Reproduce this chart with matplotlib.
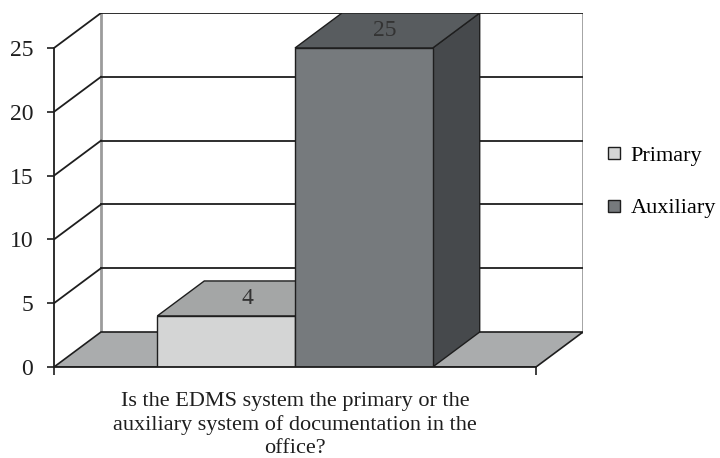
import matplotlib.pyplot as plt
from matplotlib.patches import Polygon
from matplotlib.lines import Line2D

# data
series = ["Primary", "Auxiliary"]
values = [4, 25]
yticks = [0, 5, 10, 15, 20, 25]
xlabel = "Is the EDMS system the primary or the\nauxiliary system of documentation in the\noffice?"

front_cols = ["#d4d5d5", "#767a7d"]
top_cols = ["#a4a6a6", "#585c5f"]
side_cols = ["#a4a6a6", "#46494c"]

plt.rcParams['font.family'] = ['Liberation Serif', 'DejaVu Serif']

fig = plt.figure(figsize=(7.2, 4.58), dpi=100)
ax = fig.add_axes([54/720, 91/458, 529/720, 354/458])

# depth of the fake 3d box, in data units
dx = 47/482
dy = 35/12.76
ymax = 25
ax.set_xlim(0, 1 + dx)
ax.set_ylim(0, ymax + dy)

lc = "#1e1e1e"
# floor
ax.add_patch(Polygon([(0, 0), (1, 0), (1 + dx, dy), (dx, dy)], closed=True,
                     facecolor="#aaacad", edgecolor=lc, lw=1.2, zorder=1))
# walls: gridlines on back wall and left side wall
for v in yticks[1:]:
    ax.plot([dx, 1 + dx], [v + dy, v + dy], color=lc, lw=1.3, zorder=1)
    ax.plot([0, dx], [v, v + dy], color=lc, lw=1.3, zorder=1)
ax.plot([dx, dx], [dy, ymax + dy], color="#9c9c9c", lw=2, zorder=0.9)
ax.plot([1 + dx, 1 + dx], [dy, ymax + dy], color="#9c9c9c", lw=2, zorder=0.9)

# bars
n = len(values)
gap = 1.5
w = 1 / (n + gap)
start = gap * w / 2
for i, (v, name) in enumerate(zip(values, series)):
    x0 = start + i * w
    x1 = x0 + w
    ax.add_patch(Polygon([(x1, 0), (x1 + dx, dy), (x1 + dx, v + dy), (x1, v)],
                         facecolor=side_cols[i], edgecolor=lc, lw=1, zorder=2))
    ax.add_patch(Polygon([(x0, v), (x1, v), (x1 + dx, v + dy), (x0 + dx, v + dy)],
                         facecolor=top_cols[i], edgecolor=lc, lw=1, zorder=2))
    ax.add_patch(Polygon([(x0, 0), (x1, 0), (x1, v), (x0, v)],
                         facecolor=front_cols[i], edgecolor=lc, lw=1, zorder=2))
    ax.text((x0 + x1) / 2 + dx / 2 - 0.005, v + dy / 2, str(v), ha="center", va="center",
            fontsize=17, color="#333333", zorder=3)

# axes
for s in ["top", "right"]:
    ax.spines[s].set_visible(False)
ax.spines["left"].set_bounds(0, ymax)
ax.spines["bottom"].set_bounds(0, 1)
for s in ["left", "bottom"]:
    ax.spines[s].set_color(lc)
    ax.spines[s].set_linewidth(1.3)
    ax.spines[s].set_zorder(4)
ax.set_yticks(yticks)
ax.set_xticks([0, 1])
ax.set_xticklabels(["", ""])
ax.tick_params(axis="y", direction="out", length=5, width=1.2, pad=10,
               labelsize=17, colors=lc)
ax.tick_params(axis="x", direction="out", length=6, width=1.2, colors=lc)
ax.patch.set_visible(False)

ax.annotate(xlabel, xy=(0.5, 0), xytext=(0, -18), textcoords="offset points",
            ha="center", va="top", fontsize=16, color=lc, linespacing=1.27,
            annotation_clip=False)

handles = [Line2D([], [], ls="none", marker="s", markersize=8,
                  markerfacecolor=front_cols[i], markeredgecolor=lc,
                  markeredgewidth=1) for i in range(n)]
fig.legend(handles, series, loc="upper left", bbox_to_anchor=(603/720, 1 - 145/458),
           frameon=False, fontsize=16, labelspacing=1.45, handletextpad=0.25,
           handlelength=1.0, borderaxespad=0, borderpad=0)

fig.savefig("out.png", dpi=100)
